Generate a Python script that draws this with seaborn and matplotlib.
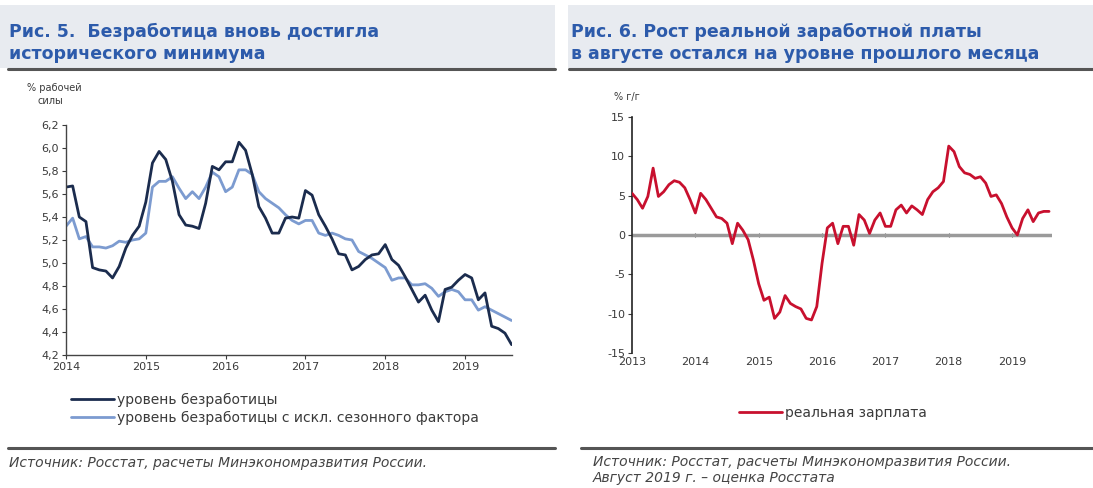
import numpy as np
import pandas as pd
import matplotlib
matplotlib.use("Agg")
import matplotlib.pyplot as plt
from matplotlib.patches import Rectangle
from matplotlib.lines import Line2D
import seaborn as sns

# ---------------- data ----------------
# Fig. 5: unemployment, monthly Jan 2014 .. Aug 2019
unemp = [5.66, 5.67, 5.40, 5.36, 4.96, 4.94, 4.93, 4.87, 4.97, 5.13, 5.24, 5.32,
         5.53, 5.87, 5.97, 5.90, 5.71, 5.42, 5.33, 5.32, 5.30, 5.52, 5.84, 5.81,
         5.88, 5.88, 6.05, 5.98, 5.77, 5.49, 5.39, 5.26, 5.26, 5.39, 5.40, 5.39,
         5.63, 5.59, 5.42, 5.32, 5.21, 5.08, 5.07, 4.94, 4.97, 5.03, 5.07, 5.08,
         5.16, 5.03, 4.98, 4.88, 4.77, 4.66, 4.72, 4.59, 4.49, 4.77, 4.79, 4.85,
         4.90, 4.87, 4.68, 4.74, 4.45, 4.43, 4.39, 4.29]
unemp_sa = [5.32, 5.39, 5.21, 5.23, 5.14, 5.14, 5.13, 5.15, 5.19, 5.18, 5.20, 5.21,
            5.26, 5.66, 5.71, 5.71, 5.75, 5.65, 5.56, 5.62, 5.56, 5.66, 5.79, 5.75,
            5.62, 5.66, 5.81, 5.81, 5.77, 5.62, 5.56, 5.52, 5.48, 5.42, 5.37, 5.34,
            5.37, 5.37, 5.26, 5.24, 5.26, 5.24, 5.21, 5.20, 5.10, 5.07, 5.04, 5.00,
            4.96, 4.85, 4.87, 4.87, 4.81, 4.81, 4.82, 4.78, 4.71, 4.75, 4.77, 4.75,
            4.68, 4.68, 4.59, 4.62, 4.59, 4.56, 4.53, 4.50]
unemp_start_year = 2014

# Fig. 6: real wage growth, % y/y, monthly Jan 2013 .. Aug 2019
wage = [5.3, 4.5, 3.4, 4.9, 8.5, 4.9, 5.5, 6.4, 6.9, 6.7, 6.0, 4.5,
        2.8, 5.3, 4.5, 3.4, 2.3, 2.1, 1.5, -1.1, 1.5, 0.6, -0.6, -3.2,
        -6.2, -8.3, -7.9, -10.6, -9.8, -7.7, -8.7, -9.1, -9.4, -10.6, -10.8, -9.1,
        -3.6, 0.9, 1.5, -1.1, 1.1, 1.1, -1.3, 2.6, 1.9, 0.2, 1.9, 2.8,
        1.1, 1.1, 3.2, 3.8, 2.8, 3.7, 3.2, 2.6, 4.5, 5.5, 6.0, 6.8,
        11.3, 10.6, 8.7, 7.9, 7.7, 7.2, 7.4, 6.6, 4.9, 5.1, 4.0, 2.3,
        0.9, 0.0, 2.1, 3.2, 1.7, 2.8, 3.0, 3.0]
wage_start_year = 2013

years_left = [2014, 2015, 2016, 2017, 2018, 2019]
years_right = [2013, 2014, 2015, 2016, 2017, 2018, 2019]
yticks_left = [4.2, 4.4, 4.6, 4.8, 5.0, 5.2, 5.4, 5.6, 5.8, 6.0, 6.2]
yticks_right = [-15, -10, -5, 0, 5, 10, 15]

label_u = "уровень безработицы"
label_usa = "уровень безработицы с искл. сезонного фактора"
label_w = "реальная зарплата"

title_left = "Рис. 5.  Безработица вновь достигла\nисторического минимума"
title_right = "Рис. 6. Рост реальной заработной платы\nв августе остался на уровне прошлого месяца"
src_left = "Источник: Росстат, расчеты Минэкономразвития России."
src_right = "Источник: Росстат, расчеты Минэкономразвития России.\nАвгуст 2019 г. – оценка Росстата"

# ---------------- style ----------------
sns.set_style("white")
plt.rcParams["font.family"] = ["DejaVu Sans"]

W, H = 1093, 488
fig = plt.figure(figsize=(W / 100, H / 100), dpi=100)

def fx(px):
    return px / W

def fy(py):
    return 1 - py / H

title_color = "#2d5bab"
dark = "#1b2c4e"
light = "#7c9bd0"
red = "#c8102e"
txt = "#3a3a3a"

# header backgrounds
fig.patches.append(Rectangle((fx(0), fy(68)), fx(555), 63 / H, transform=fig.transFigure,
                             facecolor="#e8ebf0", edgecolor="none", zorder=0))
fig.patches.append(Rectangle((fx(568), fy(68)), fx(W - 568), 63 / H, transform=fig.transFigure,
                             facecolor="#e8ebf0", edgecolor="none", zorder=0))
# separator lines
for x0, x1, y in [(8, 555, 69), (569, W, 69), (8, 555, 448), (581, W, 448)]:
    fig.add_artist(Line2D([fx(x0), fx(x1)], [fy(y), fy(y)], transform=fig.transFigure,
                          color="#555555", lw=2.2))

fig.text(fx(9), fy(43), title_left, fontsize=12.5, fontweight="bold", color=title_color,
         va="center", ha="left", linespacing=1.25)
fig.text(fx(571), fy(43), title_right, fontsize=12.5, fontweight="bold", color=title_color,
         va="center", ha="left", linespacing=1.25)
fig.text(fx(9), fy(463), src_left, fontsize=10, style="italic", color="#444444", va="center")
fig.text(fx(593), fy(470), src_right, fontsize=10, style="italic", color="#444444",
         va="center", linespacing=1.15)

# ---------------- left chart ----------------
n1 = len(unemp)
df1 = pd.DataFrame({
    "t": [unemp_start_year + i / 12 for i in range(n1)] * 2,
    "v": unemp + unemp_sa,
    "s": [label_u] * n1 + [label_usa] * n1,
})
ax1 = fig.add_axes([fx(66), fy(355), fx(512 - 66), (355 - 125) / H])
sns.lineplot(data=df1, x="t", y="v", hue="s", palette={label_u: dark, label_usa: light},
             hue_order=[label_usa, label_u], linewidth=2.0, ax=ax1, legend=False)
ax1.set_xlim(2014, 2014 + (n1 - 1) / 12 + 0.005)
ax1.set_ylim(4.2, 6.2)
ax1.set_yticks(yticks_left)
ax1.set_yticklabels([f"{v:.1f}".replace(".", ",") for v in yticks_left])
ax1.set_xticks(years_left)
ax1.set_xticklabels([str(y) for y in years_left])
ax1.set_xlabel("")
ax1.set_ylabel("")
for s in ["top", "right"]:
    ax1.spines[s].set_visible(False)
for s in ["left", "bottom"]:
    ax1.spines[s].set_color("#444444")
    ax1.spines[s].set_linewidth(1.0)
ax1.tick_params(axis="both", labelsize=8, colors=txt, length=3, width=0.8, pad=2,
                direction="out", left=True, bottom=True)
fig.text(fx(27), fy(88), "% рабочей", fontsize=7, color=txt, va="center")
fig.text(fx(37), fy(101), "силы", fontsize=7, color=txt, va="center")

h1 = [Line2D([], [], color=dark, lw=2.0), Line2D([], [], color=light, lw=2.0)]
fig.legend(h1, [label_u, label_usa], loc="upper left",
           bbox_to_anchor=(fx(71), fy(393)), frameon=False, fontsize=10,
           handlelength=3.1, handletextpad=0.2, labelspacing=0.3,
           borderpad=0, borderaxespad=0, labelcolor=txt)

# ---------------- right chart ----------------
n2 = len(wage)
df2 = pd.DataFrame({
    "t": [wage_start_year + i / 12 for i in range(n2)],
    "v": wage,
})
ax2 = fig.add_axes([fx(632), fy(353), fx(1052 - 632), (353 - 117) / H])
ax2.axhline(0, color="#9a9a9a", lw=2.5, zorder=1)
sns.lineplot(data=df2, x="t", y="v", color=red, linewidth=2.0, ax=ax2, zorder=3)
ax2.set_xlim(2013, 2013 + 6.63)
ax2.set_ylim(-15, 15)
ax2.set_yticks(yticks_right)
ax2.set_yticklabels([str(v) for v in yticks_right])
ax2.set_xticks(years_right)
ax2.set_xticklabels([str(y) for y in years_right])
ax2.set_xlabel("")
ax2.set_ylabel("")
for s in ["top", "right", "bottom"]:
    ax2.spines[s].set_visible(False)
ax2.spines["left"].set_color("#222222")
ax2.spines["left"].set_linewidth(1.2)
ax2.tick_params(axis="y", labelsize=8, colors=txt, length=3, width=0.8, pad=2,
                direction="out", left=True)
ax2.tick_params(axis="x", labelsize=8, colors=txt, length=0, pad=3)
sec = ax2.secondary_xaxis(0.5)
sec.set_xticks(years_right[1:])
sec.set_xticklabels([""] * len(years_right[1:]))
sec.tick_params(axis="x", length=3, width=0.8, direction="inout", colors="#555555")
for s in sec.spines.values():
    s.set_visible(False)
fig.text(fx(614), fy(97), "% г/г", fontsize=7, color=txt, va="center")

h2 = [Line2D([], [], color=red, lw=2.0)]
fig.legend(h2, [label_w], loc="upper left", bbox_to_anchor=(fx(739), fy(406)),
           frameon=False, fontsize=10, handlelength=3.1, handletextpad=0.2,
           borderpad=0, borderaxespad=0, labelcolor=txt)

fig.savefig("out.png", dpi=100)
